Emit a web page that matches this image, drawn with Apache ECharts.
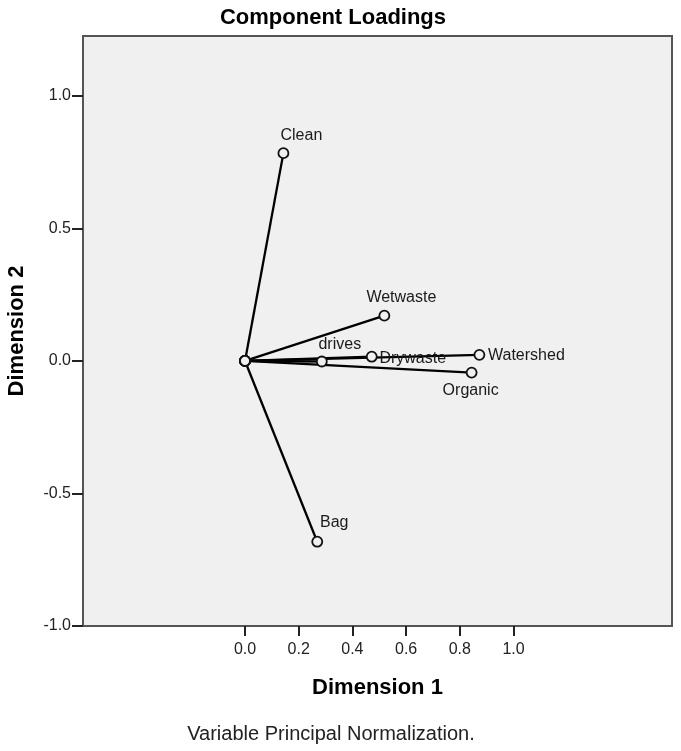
<!DOCTYPE html>
<html>
<head>
<meta charset="utf-8">
<script src="https://cdn.jsdelivr.net/npm/echarts@6/dist/echarts.min.js"></script>
<style>
html,body{margin:0;padding:0;background:#fff;}
#chart{width:681px;height:751px;}
</style>
</head>
<body>
<div id="chart"></div>
<script>
// ---- data ----
var variables = ['Clean', 'Wetwaste', 'drives', 'Drywaste', 'Watershed', 'Organic', 'Bag'];
var dim1 = [0.143, 0.519, 0.286, 0.472, 0.873, 0.844, 0.269];
var dim2 = [0.784, 0.171, -0.002, 0.016, 0.023, -0.044, -0.682];
var xTickLabels = ['0.0', '0.2', '0.4', '0.6', '0.8', '1.0'];
var yTickLabels = ['-1.0', '-0.5', '0.0', '0.5', '1.0'];

// label placement (pixel offsets from the marker, layout only)
var labelOffsets = {
  'Clean': [18, -18],
  'Wetwaste': [17, -18],
  'drives': [18, -17],
  'Drywaste': [41, 2],
  'Watershed': [47, 1],
  'Organic': [-1, 18],
  'Bag': [17, -19]
};

var FONT = 'Liberation Sans, Arial, sans-serif';

var series = variables.map(function (name, i) {
  return {
    type: 'line',
    name: name,
    xAxisIndex: 0,
    yAxisIndex: 0,
    symbol: 'circle',
    symbolSize: 10,
    showSymbol: true,
    z: 3,
    lineStyle: { color: '#000', width: 2.3 },
    itemStyle: { color: '#f0f0f0', borderColor: '#111', borderWidth: 1.8 },
    emphasis: { disabled: true },
    label: { show: false },
    data: [
      [0, 0],
      {
        value: [dim1[i], dim2[i]],
        label: {
          show: true,
          formatter: name,
          position: 'inside',
          offset: labelOffsets[name],
          color: '#1a1a1a',
          fontFamily: FONT,
          fontSize: 16
        }
      }
    ]
  };
});

var chart = echarts.init(document.getElementById('chart'), null, { renderer: 'canvas' });
chart.setOption({
  animation: false,
  backgroundColor: '#ffffff',
  title: [
    {
      text: 'Component Loadings',
      left: 328,
      textAlign: 'center',
      top: 2,
      textStyle: { fontFamily: FONT, fontSize: 22, fontWeight: 'bold', color: '#000' }
    },
    {
      text: 'Variable Principal Normalization.',
      left: 326,
      textAlign: 'center',
      top: 719,
      textStyle: { fontFamily: FONT, fontSize: 20, fontWeight: 'normal', color: '#222' }
    }
  ],
  grid: [
    { left: 83, top: 36, width: 589, height: 590, show: true, backgroundColor: '#f0f0f0',
      borderColor: '#555', borderWidth: 2, containLabel: false, outerBoundsMode: 'none' },
    { left: 245, top: 36, width: 268.5, height: 590, containLabel: false, outerBoundsMode: 'none' },
    { left: 83, top: 95.7, width: 589, height: 530.3, containLabel: false, outerBoundsMode: 'none' }
  ],
  xAxis: [
    {
      type: 'value', gridIndex: 0, min: -0.6034, max: 1.5903,
      axisLine: { show: false }, axisTick: { show: false }, axisLabel: { show: false },
      splitLine: { show: false },
      name: 'Dimension 1', nameLocation: 'middle', nameGap: 51,
      nameTextStyle: { fontFamily: FONT, fontSize: 22, fontWeight: 'bold', color: '#000' }
    },
    {
      type: 'value', gridIndex: 1, min: 0, max: 1, interval: 0.2,
      axisLine: { show: false },
      axisTick: { show: true, length: 10, lineStyle: { color: '#222', width: 2 } },
      axisLabel: {
        show: true, margin: 16, fontFamily: FONT, fontSize: 16, color: '#222',
        formatter: function (v) { return xTickLabels[Math.round(v / 0.2)] || ''; }
      },
      splitLine: { show: false }
    },
    {
      type: 'value', gridIndex: 2, min: 0, max: 1, show: false
    }
  ],
  yAxis: [
    {
      type: 'value', gridIndex: 0, min: -1, max: 1.226,
      axisLine: { show: false }, axisTick: { show: false }, axisLabel: { show: false },
      splitLine: { show: false },
      name: 'Dimension 2', nameLocation: 'middle', nameGap: 55, nameRotate: 90,
      nameTextStyle: { fontFamily: FONT, fontSize: 22, fontWeight: 'bold', color: '#000' }
    },
    {
      type: 'value', gridIndex: 1, min: 0, max: 1, show: false
    },
    {
      type: 'value', gridIndex: 2, min: -1, max: 1, interval: 0.5,
      axisLine: { show: false },
      axisTick: { show: true, length: 11, lineStyle: { color: '#222', width: 2 } },
      axisLabel: {
        show: true, margin: 12, fontFamily: FONT, fontSize: 16, color: '#222',
        formatter: function (v) { return yTickLabels[Math.round((v + 1) / 0.5)] || ''; }
      },
      splitLine: { show: false }
    }
  ],
  series: series
});
</script>
</body>
</html>
